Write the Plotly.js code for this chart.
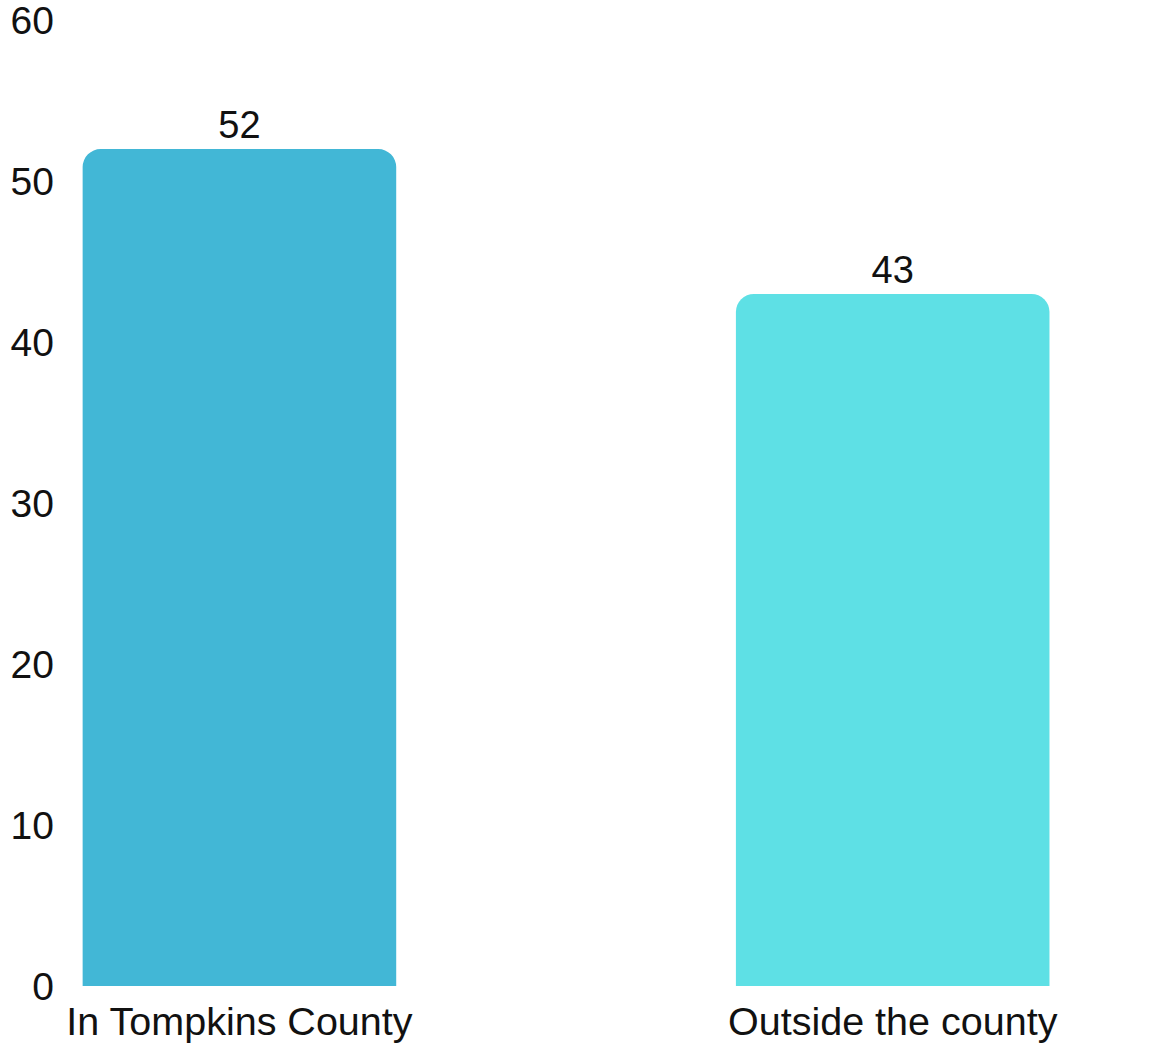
<!DOCTYPE html>
<html>
<head>
<meta charset="utf-8">
<script src="https://cdn.plot.ly/plotly-3.0.1.min.js"></script>
<style>html,body{margin:0;padding:0;background:#fff;}#chart{width:1153px;height:1048px;}</style>
</head>
<body>
<div id="chart"></div>
<script>
const categories = ["In Tompkins County", "Outside the county"];
const values = [52, 43];
const barColors = ["#42B7D6", "#5EE0E5"];
const yTicks = [0, 10, 20, 30, 40, 50, 60];

const trace = {
  type: "bar",
  x: [0, 1],
  y: values,
  text: values.map(String),
  textposition: "outside",
  cliponaxis: false,
  textfont: {size: 38, color: "#111"},
  marker: {color: barColors, cornerradius: 18, line: {width: 0}},
  hoverinfo: "skip"
};

const layout = {
  width: 1153,
  height: 1048,
  margin: {l: 65, r: 80, t: 20, b: 62},
  paper_bgcolor: "#fff",
  plot_bgcolor: "#fff",
  font: {family: "Liberation Sans, Arial, sans-serif", size: 38, color: "#111"},
  bargap: 0.52,
  showlegend: false,
  xaxis: {
    range: [-0.267, 1.276],
    tickmode: "array",
    tickvals: [0, 1],
    ticktext: categories,
    showgrid: false,
    zeroline: false,
    showline: false,
    ticks: "",
    tickfont: {size: 39.5},
    ticklabelstandoff: 8,
    automargin: false
  },
  yaxis: {
    range: [0, 60.02],
    tickmode: "array",
    tickvals: yTicks,
    showgrid: false,
    zeroline: false,
    showline: false,
    ticks: "",
    tickfont: {size: 39},
    ticklabelstandoff: 10,
    ticklabeloverflow: "allow",
    automargin: false
  }
};

Plotly.newPlot("chart", [trace], layout, {staticPlot: true, displayModeBar: false});
</script>
</body>
</html>
